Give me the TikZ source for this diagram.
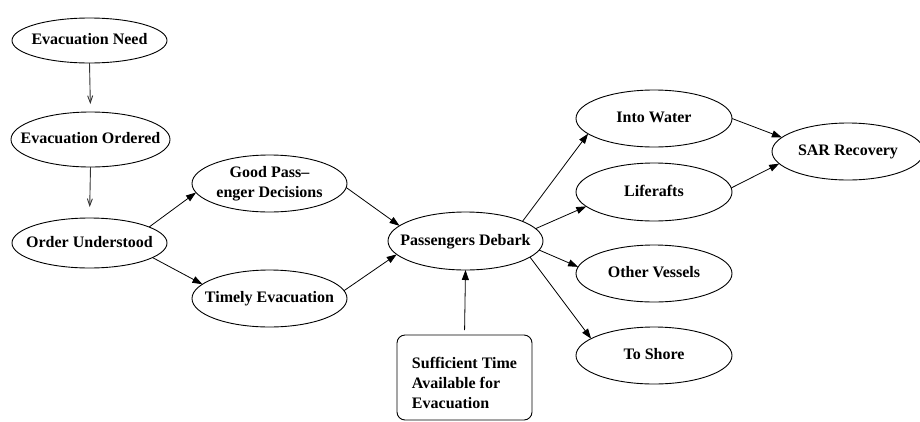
\documentclass[tikz,border=0pt]{standalone}
\usepackage{fontspec}
\setmainfont{Liberation Serif}
\newfontfamily\timesfont{Liberation Serif}
\usetikzlibrary{shapes.geometric,arrows.meta}
\newcommand\ctext[1]{\makebox[0pt]{\begin{tabular}{@{}c@{}}#1\end{tabular}}}
\begin{document}
\begin{tikzpicture}[x=1pt,y=-1pt,
  every node/.style={font=\timesfont\bfseries\fontsize{16}{20}\selectfont},
  ell/.style={ellipse, draw, line width=0.9pt, inner sep=0pt, outer sep=0pt,
              minimum width=155pt, minimum height=57pt},
  boxnode/.style={draw, line width=0.9pt, rounded corners=8pt, inner sep=0pt, outer sep=0pt,
              minimum width=135pt, minimum height=85pt, align=left},
  arr/.style={line width=0.8pt, -{Triangle[length=10pt,width=7pt]}},
  openarr/.style={line width=0.9pt, draw=black!80, -{Straight Barb[length=7pt,width=5pt]}}
]
\useasboundingbox (0,0) rectangle (920,421);

\node[ell, minimum height=45pt] (need) at (89.5,40.5) {\ctext{Evacuation Need}};
\node[ell, minimum width=159pt, minimum height=55pt] (ordered) at (90.5,139.5) {\ctext{Evacuation Ordered}};
\node[ell, minimum height=50pt] (understood) at (89.5,243) {\ctext{Order Understood}};
\node[ell] (good) at (269.5,183.5) {\ctext{Good Pass–\\enger Decisions}};
\node[ell] (timely) at (269.5,298.5) {\ctext{Timely Evacuation}};
\node[ell, minimum height=58pt] (debark) at (465.5,241) {\ctext{Passengers Debark}};
\node[ell, minimum width=156pt] (water) at (654,118.5) {\ctext{Into Water}};
\node[ell, minimum width=156pt, minimum height=58pt] (life) at (654,192) {\ctext{Liferafts}};
\node[ell, minimum width=156pt] (other) at (654,273.5) {\ctext{Other Vessels}};
\node[ell, minimum width=156pt] (shore) at (654,355.5) {\ctext{To Shore}};
\node[ell, minimum width=152pt] (sar) at (848,151.5) {\ctext{SAR Recovery}};
\node[boxnode] (time) at (464.5,377.5)
  {\raisebox{-7pt}[\height][\depth]{\begin{tabular}{@{}l@{}}Sufficient Time\\Available for\\Evacuation\end{tabular}}};

\draw[openarr, shorten >=8pt] (need.south) -- (ordered.north);
\draw[openarr, shorten >=11pt] (ordered.south) -- (understood.north);
\draw[arr] (understood.15) -- (good.187);
\draw[arr] (understood.347) -- (timely.168);
\draw[arr] (good.357) -- (debark.167);
\draw[arr] (timely.6) -- (debark.191);
\draw[arr] (debark.19) -- (water.193);
\draw[arr] (debark.10) -- (life.192);
\draw[arr] (debark.353) -- (other.175);
\draw[arr] (debark.346) -- (shore.165);
\draw[arr] (water.0) -- (sar.168);
\draw[arr] (life.3) -- (sar.190);
\draw[arr, shorten <=5pt] (time.north) -- (debark.south);
\end{tikzpicture}
\end{document}
